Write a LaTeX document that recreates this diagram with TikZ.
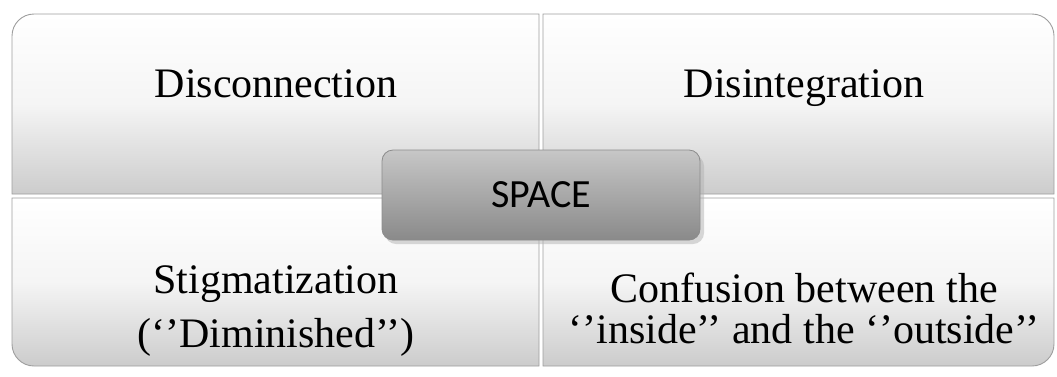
\documentclass[tikz,border=0pt]{standalone}
\usepackage{fontspec}
\setmainfont{Liberation Serif}
\newfontfamily\spacefont{Carlito}
\tikzset{
  quad/.style={top color=white, bottom color=black!20, middle color=black!4, draw=black!38, line width=0.9pt},
  lbl/.style={anchor=base, inner sep=0pt, font=\fontsize{42}{50}\selectfont},
  spacebox/.style={rounded corners=11pt, top color=black!22, bottom color=black!46, draw=black!45, line width=0.8pt,
    minimum width=318pt, minimum height=90pt, inner sep=0pt, font=\spacefont\fontsize{40}{48}\selectfont}
}
\begin{document}
\begin{tikzpicture}[x=1pt,y=1pt]
\useasboundingbox (0,0) rectangle (1057,-376);
% quadrants
\path[quad] (539,-194) -- (12,-194) -- (12,-36) arc[start angle=180,end angle=90,radius=22] -- (539,-14) -- cycle;
\path[quad] (543,-194) -- (543,-14) -- (1032,-14) arc[start angle=90,end angle=0,radius=22] -- (1054,-194) -- cycle;
\path[quad] (539,-198) -- (12,-198) -- (12,-344) arc[start angle=180,end angle=270,radius=22] -- (539,-366) -- cycle;
\path[quad] (543,-198) -- (543,-366) -- (1032,-366) arc[start angle=270,end angle=360,radius=22] -- (1054,-198) -- cycle;
% labels
\node[lbl] (disc) at (276,-97) {Disconnection};
\node[lbl] (disint) at (804,-97) {Disintegration};
\node[lbl] (stig) at (276,-293) {Stigmatization};
\node[lbl] (dimin) at (276,-347) {(‘’Diminished’’)};
\node[lbl] (conf) at (804,-302) {Confusion between the};
\node[lbl] (inout) at (804,-343) {‘’inside’’ and the ‘’outside’’};
% central box
\fill[black!30, opacity=0.5, rounded corners=11pt] (385,-155) rectangle (704,-244);
\node[spacebox] (space) at (541,-195) {SPACE};
\end{tikzpicture}
\end{document}
